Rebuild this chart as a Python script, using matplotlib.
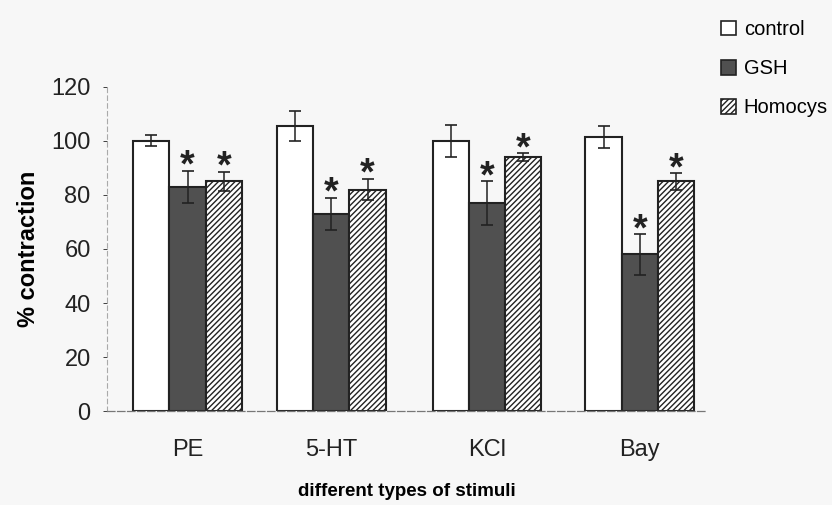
import numpy as np
import matplotlib
matplotlib.use('Agg')
import matplotlib.pyplot as plt
from matplotlib.patches import Patch

plt.rcParams['font.family'] = ['Liberation Sans', 'DejaVu Sans']
plt.rcParams['hatch.linewidth'] = 1.0

# data
stimuli = ['PE', '5-HT', 'KCl', 'Bay']
groups = ['control', 'GSH', 'Homocys']
control = [100, 105.5, 100, 101.5]
control_err = [2, 5.5, 6, 4]
gsh = [83, 73, 77, 58]
gsh_err = [6, 6, 8, 7.5]
homocys = [85, 82, 94, 85]
homocys_err = [3.5, 4, 1.5, 3]
gsh_sig = [True, True, True, True]
homocys_sig = [True, True, True, True]

fig = plt.figure(figsize=(8.32, 5.05), dpi=100)
fig.patch.set_facecolor('#f7f7f7')
ax = fig.add_axes([0.129, 0.186, 0.72, 0.642])
ax.set_facecolor('#f7f7f7')

x = np.array([0, 0.95, 1.98, 2.99])
w = 0.24
styles = [
    dict(facecolor='white', hatch=None),
    dict(facecolor='#505050', hatch=None),
    dict(facecolor='white', hatch='//////'),
]
series = [(control, control_err), (gsh, gsh_err), (homocys, homocys_err)]

for i, ((vals, errs), st) in enumerate(zip(series, styles)):
    ax.bar(x + (i - 1) * w, vals, w, yerr=errs, color=st['facecolor'],
           hatch=st['hatch'], edgecolor='#222222', linewidth=1.5,
           error_kw=dict(ecolor='#222222', elinewidth=1.1, capsize=4.5, capthick=1.2))

for i in range(len(stimuli)):
    if gsh_sig[i]:
        ax.text(x[i], gsh[i] + gsh_err[i] + 1.5, '*', ha='center', va='center',
                fontsize=27, fontweight='bold', color='#222222')
    if homocys_sig[i]:
        ax.text(x[i] + w, homocys[i] + homocys_err[i] + 1.5, '*', ha='center', va='center',
                fontsize=27, fontweight='bold', color='#222222')

ax.set_ylim(0, 120)
ax.set_xlim(-0.53, 3.43)
ax.set_yticks(range(0, 121, 20))
ax.set_xticks(x)
ax.set_xticklabels(stimuli)
ax.tick_params(axis='both', labelsize=17, colors='#222222', length=3, width=0.6)
ax.tick_params(axis='y', pad=9)
ax.tick_params(axis='x', length=0, pad=20)

for side in ['top', 'right']:
    ax.spines[side].set_visible(False)
ax.spines['left'].set_color('#aaaaaa')
ax.spines['left'].set_linestyle((0, (4, 3)))
ax.spines['left'].set_linewidth(0.8)
ax.spines['bottom'].set_color('#777777')
ax.spines['bottom'].set_linestyle((0, (6, 2)))
ax.spines['bottom'].set_linewidth(0.9)

ax.set_ylabel('% contraction', fontsize=17, fontweight='bold', labelpad=8)
ax.set_xlabel('different types of stimuli', fontsize=13.5, fontweight='bold', labelpad=16)

handles = [Patch(facecolor=st['facecolor'], hatch=st['hatch'], edgecolor='#222222', linewidth=1.2)
           for st in styles]
fig.legend(handles, groups, loc='upper left', bbox_to_anchor=(0.842, 1.0), frameon=False,
           fontsize=14.5, handlelength=0.75, handleheight=0.75, handletextpad=0.4,
           labelspacing=1.0, borderpad=0.5)

fig.savefig('out.png', dpi=100, facecolor=fig.get_facecolor())
